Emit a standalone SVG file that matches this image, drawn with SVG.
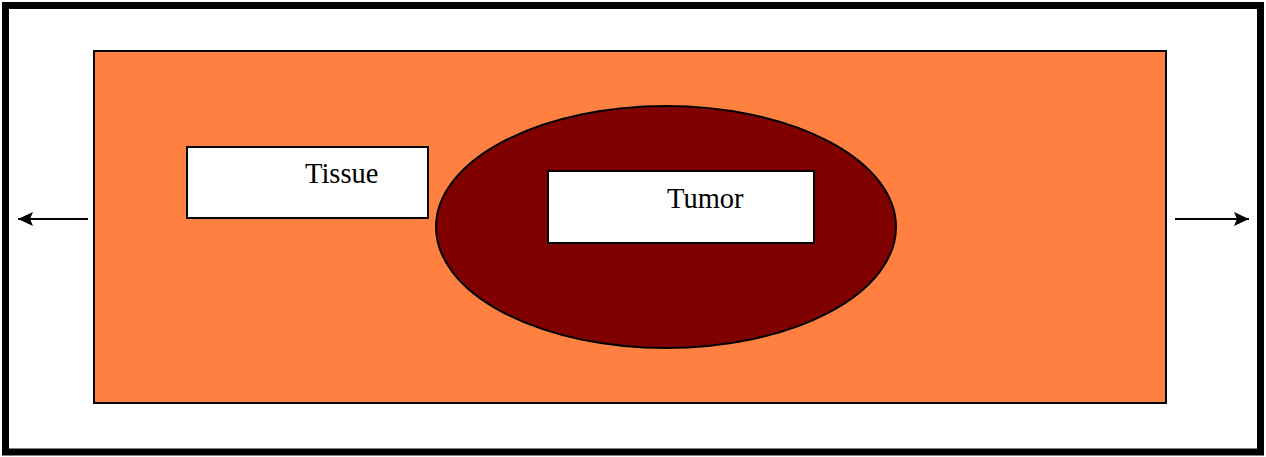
<svg xmlns="http://www.w3.org/2000/svg" width="1266" height="457" viewBox="0 0 1266 457">
<style>
.lbl{fill:#fff;stroke:#000;stroke-width:2}
.txt{font-family:"Liberation Serif",serif;font-size:28.5px;fill:#000}
.conn{stroke:#000;stroke-width:2;fill:none}
</style>
<defs>
<marker id="ah" viewBox="0 0 15 14" refX="15" refY="7" markerWidth="15" markerHeight="14" markerUnits="userSpaceOnUse" orient="auto">
<path d="M0,0 L15,7 L0,14 L3,7 z" fill="#000"/>
</marker>
</defs>
<rect width="1266" height="457" fill="#fff"/>
<g id="frame"><rect x="5.5" y="5.5" width="1255" height="446.5" fill="#fff" stroke="#000" stroke-width="7"/></g>
<g id="tissue-region"><rect x="94" y="51" width="1072" height="352" fill="#FF8040" stroke="#000" stroke-width="2"/></g>
<g id="tumor-region"><ellipse cx="666" cy="227" rx="230" ry="121" fill="#800000" stroke="#000" stroke-width="2"/></g>
<g id="tissue-label"><rect class="lbl" x="187" y="147" width="241" height="71"/><text class="txt" x="305" y="183">Tissue</text></g>
<g id="tumor-label"><rect class="lbl" x="548" y="171" width="266" height="72"/><text class="txt" x="667" y="208">Tumor</text></g>
<g id="connectors">
<line class="conn" x1="88" y1="219" x2="18" y2="219" marker-end="url(#ah)"/>
<line class="conn" x1="1175" y1="219" x2="1249" y2="219" marker-end="url(#ah)"/>
</g>
</svg>
